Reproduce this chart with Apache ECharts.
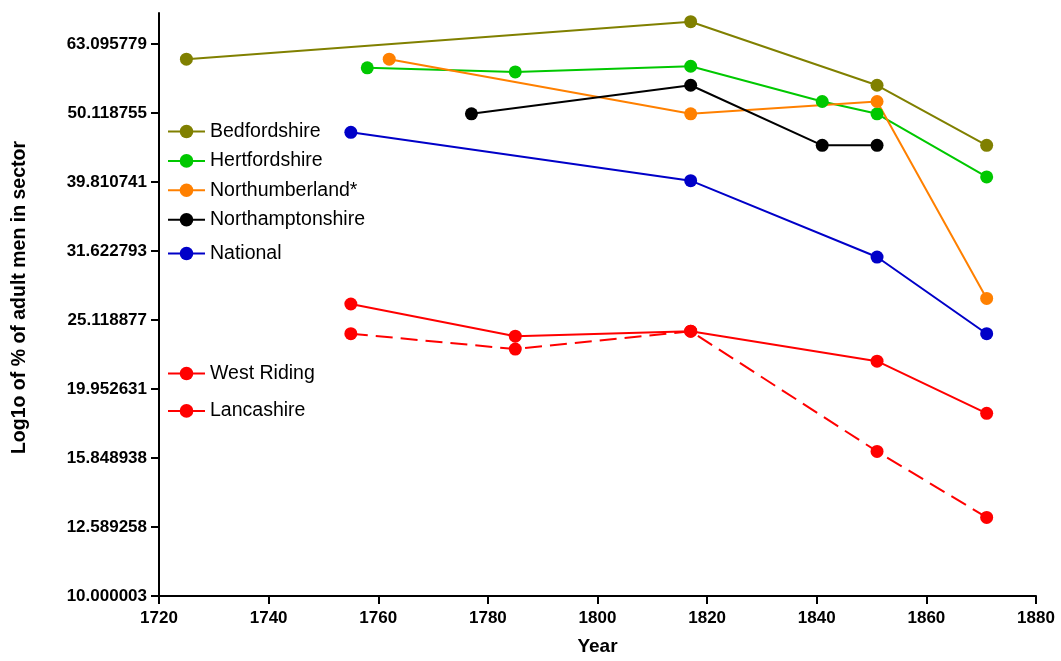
<!DOCTYPE html>
<html>
<head>
<meta charset="utf-8">
<title>Log10 of % of adult men in sector</title>
<script src="https://cdn.jsdelivr.net/npm/echarts@6/dist/echarts.min.js"></script>
<style>
  html, body { margin: 0; padding: 0; background: #fff; }
  #chart { width: 1061px; height: 661px; }
</style>
</head>
<body>
<div id="chart"></div>
<script>
// Percentage of adult men in the sector, by county and year: [year, percent]
const bedfordshire     = [[1725, 60.0], [1817, 68.0], [1851, 55.0], [1871, 45.0]];
const hertfordshire    = [[1758, 58.3], [1785, 57.5], [1817, 58.6], [1841, 52.1], [1851, 50.0], [1871, 40.5]];
const northumberland   = [[1762, 60.0], [1817, 50.0], [1851, 52.1], [1871, 27.0]];
const northamptonshire = [[1777, 50.0], [1817, 55.0], [1841, 45.0], [1851, 45.0]];
const national         = [[1755, 47.0], [1817, 40.0], [1851, 31.0], [1871, 24.0]];
const westRiding       = [[1755, 26.5], [1785, 23.8], [1817, 24.2], [1851, 21.9], [1871, 18.4]];
const lancashire       = [[1755, 24.0], [1785, 22.8], [1817, 24.2], [1851, 16.2], [1871, 13.0]];

// Y tick labels (percent values on the log10 scale)
const yTickLabels = ['10.000003', '12.589258', '15.848938', '19.952631', '25.118877',
                     '31.622793', '39.810741', '50.118755', '63.095779'];
const yTopPercent = 70;

// X axis range
const xMin = 1720, xMax = 1880, xStep = 20;

const FONT = '"Liberation Sans", Arial, Helvetica, sans-serif';
const toLog = pts => pts.map(([yr, pct]) => [yr, Math.log10(pct)]);
const yTickValues = yTickLabels.map(s => Math.log10(parseFloat(s)));

// label for a tick value: the listed label whose log value is closest
function yLabelFor(v) {
  let best = 0;
  yTickValues.forEach((t, i) => { if (Math.abs(t - v) < Math.abs(yTickValues[best] - v)) best = i; });
  return Math.abs(yTickValues[best] - v) < 0.01 ? yTickLabels[best] : '';
}

function lineSeries(name, pts, color, dashed) {
  return {
    name: name,
    type: 'line',
    data: toLog(pts),
    symbol: 'circle',
    symbolSize: 13,
    showAllSymbol: true,
    lineStyle: { color: color, width: 2, type: dashed ? [17, 8] : 'solid' },
    itemStyle: { color: color },
    emphasis: { disabled: true }
  };
}

const legendText = { color: '#000', fontSize: 19.5, fontFamily: FONT, lineHeight: 20 };

const option = {
  animation: false,
  backgroundColor: '#fff',
  grid: { left: 159, right: 25, top: 13, bottom: 64, containLabel: false },
  legend: [
    {
      data: ['Bedfordshire', 'Hertfordshire', 'Northumberland*', 'Northamptonshire'],
      orient: 'vertical', left: 167, top: 121.5, padding: 0,
      itemWidth: 37, itemHeight: 17, itemGap: 9.4,
      selectedMode: false, textStyle: legendText
    },
    {
      data: ['National'],
      orient: 'vertical', left: 167, top: 243.5, padding: 0,
      itemWidth: 37, itemHeight: 17,
      selectedMode: false, textStyle: legendText
    },
    {
      data: ['West Riding', 'Lancashire'],
      orient: 'vertical', left: 167, top: 363.5, padding: 0,
      itemWidth: 37, itemHeight: 17, itemGap: 17.4,
      selectedMode: false, textStyle: legendText,
      lineStyle: { type: 'solid' }
    }
  ],
  xAxis: {
    type: 'value',
    min: xMin, max: xMax, interval: xStep,
    name: 'Year',
    nameLocation: 'middle',
    nameGap: 41,
    nameTextStyle: { color: '#000', fontSize: 19, fontWeight: 'bold', fontFamily: FONT },
    axisLine: { show: true, lineStyle: { color: '#000', width: 2 } },
    axisTick: { show: true, length: 8, inside: false, lineStyle: { color: '#000', width: 2 } },
    axisLabel: { color: '#000', fontSize: 17, fontWeight: 'bold', fontFamily: FONT, margin: 14,
                 formatter: v => String(v) },
    splitLine: { show: false }
  },
  yAxis: {
    type: 'value',
    min: 1, max: Math.log10(yTopPercent),
    name: 'Log1o of % of adult men in sector',
    nameLocation: 'middle',
    nameGap: 129,
    nameRotate: 90,
    nameTextStyle: { color: '#000', fontSize: 19.5, fontWeight: 'bold', fontFamily: FONT, padding: [0, 0, 0, 14] },
    axisLine: { show: true, lineStyle: { color: '#000', width: 2 } },
    axisTick: { show: true, length: 8, inside: false, customValues: yTickValues,
                lineStyle: { color: '#000', width: 2 } },
    axisLabel: {
      show: true,
      customValues: yTickValues,
      showMinLabel: true, showMaxLabel: true, hideOverlap: false,
      color: '#000', fontSize: 17, fontWeight: 'bold', fontFamily: FONT, margin: 12,
      formatter: v => yLabelFor(v)
    },
    splitLine: { show: false }
  },
  series: [
    lineSeries('Bedfordshire', bedfordshire, '#808000'),
    lineSeries('Hertfordshire', hertfordshire, '#00C800'),
    lineSeries('Northumberland*', northumberland, '#FF8000'),
    lineSeries('Northamptonshire', northamptonshire, '#000000'),
    lineSeries('National', national, '#0000C8'),
    lineSeries('West Riding', westRiding, '#FF0000'),
    lineSeries('Lancashire', lancashire, '#FF0000', true)
  ]
};

const chart = echarts.init(document.getElementById('chart'), null, { renderer: 'canvas' });
chart.setOption(option);
</script>
</body>
</html>
